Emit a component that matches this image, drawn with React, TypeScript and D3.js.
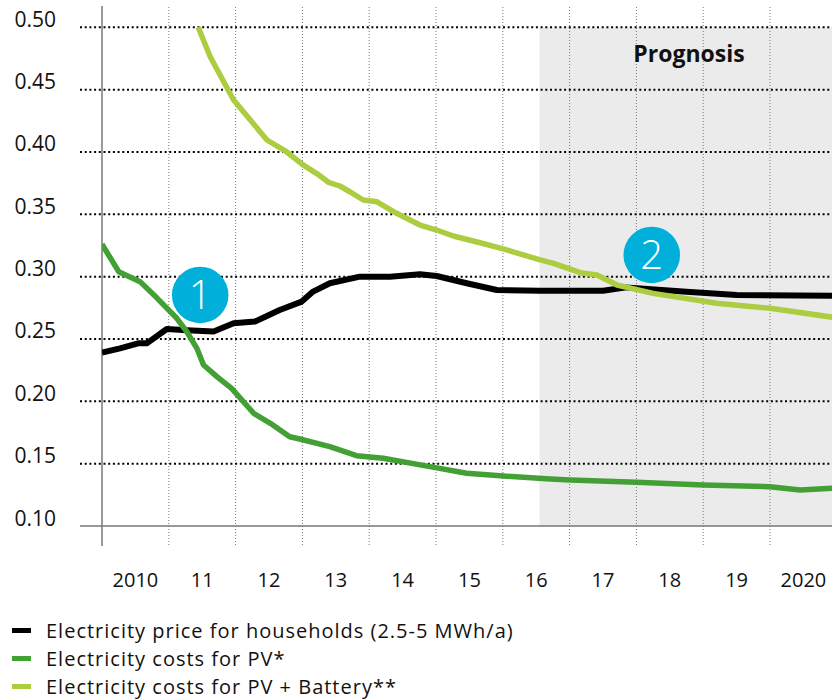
import React from "react";
import * as d3 from "d3";

const yTicks = [0.1, 0.15, 0.2, 0.25, 0.3, 0.35, 0.4, 0.45, 0.5];
const yearLabels = ["2010", "11", "12", "13", "14", "15", "16", "17", "18", "19", "2020"];
const yearStarts = [2010, 2011, 2012, 2013, 2014, 2015, 2016, 2017, 2018, 2019, 2020];
const prognosisStart = 2016.55;

const householdYears = [2010.0, 2010.27, 2010.54, 2010.67, 2010.97, 2011.27, 2011.67, 2011.97, 2012.29, 2012.66, 2012.99, 2013.16, 2013.41, 2013.86, 2014.31, 2014.76, 2015.01, 2015.46, 2015.91, 2016.56, 2017.5, 2017.85, 2018.75, 2019.5, 2020.93];
const householdPrice = [0.239, 0.2425, 0.2465, 0.2465, 0.258, 0.257, 0.256, 0.2626, 0.264, 0.2733, 0.28, 0.288, 0.2947, 0.3, 0.3, 0.3019, 0.3005, 0.2947, 0.2893, 0.2887, 0.2887, 0.2914, 0.2879, 0.2853, 0.2847];

const pvYears = [2010.0, 2010.25, 2010.57, 2010.82, 2011.12, 2011.27, 2011.42, 2011.52, 2011.72, 2011.94, 2012.27, 2012.52, 2012.81, 2012.96, 2013.41, 2013.81, 2014.21, 2014.91, 2015.46, 2016.01, 2016.71, 2017.01, 2018.0, 2019.0, 2020.0, 2020.45, 2020.93];
const pvCost = [0.326, 0.304, 0.296, 0.283, 0.2666, 0.2558, 0.2425, 0.2291, 0.2198, 0.2104, 0.1904, 0.1824, 0.1716, 0.1698, 0.1636, 0.1564, 0.1543, 0.1476, 0.1423, 0.1401, 0.1377, 0.1369, 0.135, 0.1329, 0.1315, 0.1289, 0.1302];

const batteryYears = [2011.44, 2011.62, 2011.97, 2012.47, 2012.76, 2013.01, 2013.21, 2013.39, 2013.56, 2013.71, 2013.91, 2014.11, 2014.41, 2014.76, 2015.01, 2015.26, 2015.66, 2016.06, 2016.56, 2016.76, 2017.16, 2017.41, 2017.71, 2018.25, 2019.2, 2020.0, 2020.93];
const batteryCost = [0.5, 0.4764, 0.4417, 0.4096, 0.4002, 0.3896, 0.3829, 0.3757, 0.3727, 0.3681, 0.3615, 0.3601, 0.3508, 0.3414, 0.3374, 0.3326, 0.3272, 0.3214, 0.3134, 0.3107, 0.3032, 0.3013, 0.2933, 0.2866, 0.2786, 0.2746, 0.2675];

const annotationLabels = ["1", "2"];
const annotationYears = [2011.47, 2018.23];
const annotationValues = [0.2853, 0.3174];

const legendLabels = [
  "Electricity price for households (2.5-5 MWh/a)",
  "Electricity costs for PV*",
  "Electricity costs for PV + Battery**",
];
const seriesColors = ["#000000", "#43a035", "#abcd3f"];

const FONT = "'Open Sans', 'DejaVu Sans', sans-serif";

export default function App() {
  const x = d3.scaleLinear().domain([2010, 2021]).range([102, 836.8]);
  const y = d3.scaleLinear().domain([0.1, 0.5]).range([526, 27.3]);

  const line = d3
    .line<[number, number]>()
    .x((d) => x(d[0]))
    .y((d) => y(d[1]))
    .curve(d3.curveLinear);

  const series = [
    { years: householdYears, values: householdPrice, color: seriesColors[0], width: 6 },
    { years: pvYears, values: pvCost, color: seriesColors[1], width: 5.5 },
    { years: batteryYears, values: batteryCost, color: seriesColors[2], width: 5.5 },
  ];

  const plotRight = 832;
  const gridLines = yearStarts.slice(1).concat([2021]);

  return (
    <svg
      width={832}
      height={699}
      style={{ position: "absolute", left: 0, top: 0, background: "#fff" }}
      fontFamily={FONT}
    >
      <defs>
        <clipPath id="plotclip">
          <rect x={x(2010)} y={y(0.5) - 3} width={plotRight - x(2010)} height={y(0.1) - y(0.5) + 3} />
        </clipPath>
      </defs>
      {/* prognosis region */}
      <rect
        x={x(prognosisStart)}
        y={y(0.5)}
        width={plotRight - x(prognosisStart)}
        height={y(0.1) - y(0.5)}
        fill="#ebebeb"
      />
      {/* vertical dotted grid */}
      {gridLines.map((yr) => (
        <line
          key={"v" + yr}
          x1={x(yr)}
          x2={x(yr)}
          y1={7}
          y2={546}
          stroke="#777"
          strokeWidth={1}
          strokeDasharray="1 2"
        />
      ))}
      {/* horizontal dotted grid */}
      {yTicks.slice(1).map((t) => (
        <line
          key={"h" + t}
          x1={80}
          x2={plotRight}
          y1={y(t)}
          y2={y(t)}
          stroke="#000"
          strokeWidth={2}
          strokeDasharray="2 2.7"
        />
      ))}
      {/* axes */}
      <line x1={80} x2={plotRight} y1={y(0.1)} y2={y(0.1)} stroke="#777" strokeWidth={1.5} />
      <line x1={x(2010)} x2={x(2010)} y1={6} y2={546} stroke="#777" strokeWidth={1.5} />
      {/* y labels */}
      {yTicks.map((t) => (
        <text key={"yl" + t} x={56} y={y(t) - 0.5} textAnchor="end" fontSize={21} fill="#111">
          {t.toFixed(2)}
        </text>
      ))}
      {/* x labels */}
      {yearStarts.map((yr, i) => (
        <text key={"xl" + yr} x={x(yr + 0.5)} y={587} textAnchor="middle" fontSize={20} fill="#111">
          {yearLabels[i]}
        </text>
      ))}
      {/* prognosis label */}
      <text x={689} y={62} textAnchor="middle" fontSize={23} fontWeight="bold" fill="#111">
        Prognosis
      </text>
      {/* lines */}
      <g clipPath="url(#plotclip)">
        {series.map((s, i) => (
          <path
            key={"s" + i}
            d={line(s.years.map((yr, j) => [yr, s.values[j]] as [number, number])) || ""}
            fill="none"
            stroke={s.color}
            strokeWidth={s.width}
            strokeLinejoin="round"
          />
        ))}
      </g>
      {/* annotations */}
      {annotationLabels.map((lab, i) => (
        <g key={"a" + i} transform={`translate(${x(annotationYears[i])},${y(annotationValues[i])})`}>
          <circle r={28.3} fill="#00b0da" />
          <text textAnchor="middle" y={14} fontSize={40} fill="#fff" fontWeight={300}>
            {lab}
          </text>
        </g>
      ))}
      {/* legend */}
      {legendLabels.map((lab, i) => (
        <g key={"lg" + i} transform={`translate(0,${630.5 + i * 28})`}>
          <line x1={12} x2={31} y1={0} y2={0} stroke={seriesColors[i]} strokeWidth={5} />
          <text x={46} y={7.5} fontSize={20} letterSpacing={1} fill="#111">
            {lab}
          </text>
        </g>
      ))}
    </svg>
  );
}
